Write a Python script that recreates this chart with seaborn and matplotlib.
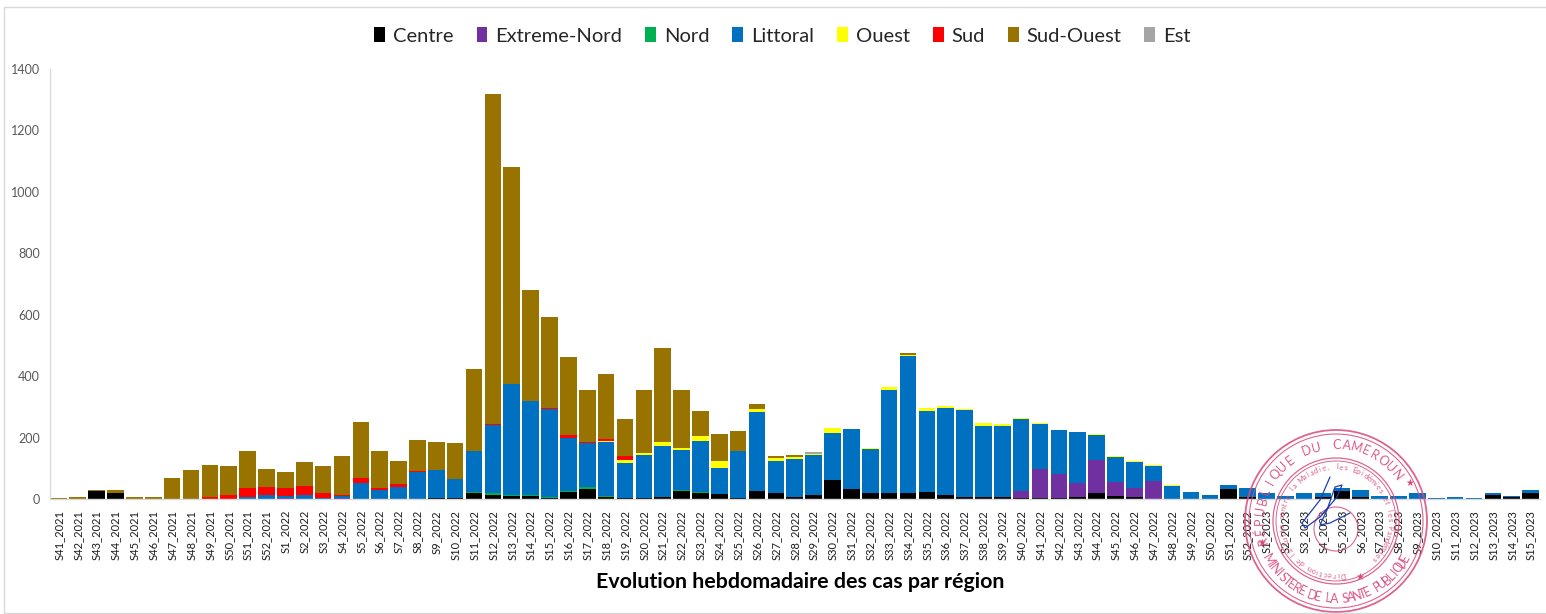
import matplotlib
matplotlib.use('Agg')
import matplotlib.pyplot as plt
import numpy as np
import pandas as pd
import seaborn as sns
from matplotlib.patches import Circle, Patch

weeks = [f'S{w}_2021' for w in range(41, 53)] + \
        [f'S{w}_2022' for w in range(1, 53)] + \
        [f'S{w}_2023' for w in range(1, 16)]

regions = ['Centre', 'Extreme-Nord', 'Nord', 'Littoral', 'Ouest', 'Sud', 'Sud-Ouest', 'Est']
colors = ['#000000', '#7030a0', '#00b050', '#0070c0', '#ffff00', '#ff0000', '#997300', '#a5a5a5']

centre = [0, 0, 25, 18, 0, 0, 0, 0, 0, 0, 0, 0,
          0, 0, 0, 0, 0, 0, 0, 0, 4, 4,
          20, 14, 10, 10, 3, 23, 32, 5, 2, 3,
          5, 26, 20, 15, 3, 27, 20, 7, 12, 62,
          31, 20, 20, 20, 24, 12, 6, 6, 6, 3,
          3, 3, 5, 20, 9, 5, 0, 0, 0, 0, 31, 8,
          0, 0, 0, 7, 25, 5, 0, 0, 0, 0, 0, 0, 14, 8, 18]
extreme_nord = [0] * 12 + \
          [3, 0, 0, 2, 0, 0, 0, 0, 0, 0,
           0, 0, 0, 0, 0, 0, 0, 0, 0, 0,
           0, 0, 0, 0, 0, 0, 0, 0, 0, 0,
           0, 0, 0, 0, 0, 0, 0, 0, 0, 22,
           95, 80, 47, 107, 46, 30, 60, 0, 0, 0, 0, 0] + [0] * 15
nord = [0] * 12 + \
          [0, 0, 0, 0, 0, 0, 0, 0, 0, 0,
           3, 4, 2, 4, 3, 4, 8, 4, 2, 0,
           2, 3, 4, 0, 0, 0, 0, 0, 0, 0,
           1, 0, 0, 0, 0, 0, 0, 0, 0, 0,
           0, 0, 0, 0, 0, 0, 0, 0, 0, 0, 0, 0] + [0] * 15
littoral = [0, 0, 0, 0, 0, 0, 0, 0, 0, 0, 5, 13,
            7, 12, 4, 8, 52, 28, 40, 88, 90, 61,
            132, 222, 364, 305, 287, 172, 142, 177, 112, 141,
            165, 130, 165, 87, 152, 256, 105, 122, 130, 153,
            196, 142, 336, 447, 262, 284, 285, 232, 233, 236,
            146, 141, 165, 81, 81, 85, 48, 42, 23, 13, 16, 27,
            19, 10, 18, 12, 12, 23, 10, 11, 18, 4, 7, 3, 7, 3, 10]
ouest = [0] * 12 + \
          [0, 0, 0, 0, 0, 0, 0, 0, 0, 0,
           0, 0, 0, 0, 0, 0, 1, 4, 10, 6,
           14, 8, 15, 23, 0, 11, 8, 8, 6, 15,
           0, 4, 10, 3, 10, 8, 2, 8, 4, 4,
           2, 1, 2, 3, 3, 4, 3, 3, 0, 0, 0, 0] + [0] * 15
sud = [0, 0, 0, 0, 0, 0, 0, 0, 5, 13, 32, 27,
       25, 30, 17, 4, 15, 7, 9, 3, 0, 0,
       0, 5, 0, 0, 3, 10, 3, 5, 13, 0,
       0] + [0] * 31 + [0] * 15
sud_ouest = [2, 8, 3, 10, 5, 5, 70, 93, 105, 93, 118, 57,
             53, 78, 88, 125, 185, 122, 76, 101, 91, 118,
             268, 1072, 705, 360, 297, 253, 168, 212, 120, 204,
             306, 188, 83, 87, 65, 14, 6, 5, 0, 0,
             0, 0, 0, 4, 0, 0, 0, 0, 0, 0,
             0, 0, 0, 0, 0, 0, 0, 0, 0, 0, 0, 0] + [0] * 15
est = [0] * 12 + [0] * 28 + [6] + [0] * 4 + [2] + [0] * 18 + [0] * 15

series = [centre, extreme_nord, nord, littoral, ouest, sud, sud_ouest, est]

frames = [pd.DataFrame({'semaine': weeks, 'region': r, 'cas': s}) for r, s in zip(regions, series)]
data = pd.concat(frames, ignore_index=True)

W, H = 1546, 614
font = ['Lato', 'DejaVu Sans']

sns.set_theme(style='white')
plt.rcParams['font.family'] = font

fig = plt.figure(figsize=(W / 100, H / 100), dpi=100)
ax = fig.add_axes([49.5 / W, 1 - 499 / H, (1540 - 49.5) / W, 430 / H])

# histplot stacks the first hue on top, so the order is reversed
sns.histplot(data=data, x='semaine', weights='cas', hue='region',
             hue_order=regions[::-1], palette=dict(zip(regions, colors)),
             multiple='stack', discrete=True, shrink=0.88, linewidth=0,
             alpha=1, legend=False, ax=ax)

ax.set_xlim(-0.5, len(weeks) - 0.5)
ax.set_ylim(0, 1400)
ax.set_yticks(range(0, 1401, 200))
ax.set_xticks(range(len(weeks)))
ax.set_xticklabels(weeks, rotation=90, fontsize=8, color='#1a1a1a')
ax.tick_params(axis='x', length=0, pad=8)
ax.tick_params(axis='y', length=3, width=0.8, color='#d9d9d9', labelsize=9, labelcolor='#595959', pad=4)
ax.set_xlabel('')
ax.set_ylabel('')
sns.despine(ax=ax)
for side in ['left', 'bottom']:
    ax.spines[side].set_color('#d9d9d9')
    ax.spines[side].set_linewidth(1)

handles = [Patch(facecolor=c, edgecolor='none', label=r) for r, c in zip(regions, colors)]
fig.legend(handles=handles, loc='center', bbox_to_anchor=(782.5 / W, 1 - 36 / H), ncol=8,
           frameon=False, handlelength=0.54, handleheight=0.72,
           handletextpad=0.4, columnspacing=1.13, prop={'family': font, 'size': 14.5})

fig.text(800 / W, 1 - 582 / H, 'Evolution hebdomadaire des cas par région', ha='center', va='center',
         fontsize=15.4, fontweight='bold', color='black')

# overlay in pixel coordinates for the frame, stamp and signature
over = fig.add_axes([0, 0, 1, 1], facecolor='none')
over.set_xlim(0, W)
over.set_ylim(H, 0)
over.axis('off')
over.plot([W, 3.5, 3.5, W], [6.5, 6.5, 612.5, 612.5], color='#d9d9d9', linewidth=1)

stamp = '#d8497c'
cx, cy = 1336, 521
for radius, lw in [(91, 1.3), (87, 0.8), (63, 0.9), (60, 0.7), (22, 0.8)]:
    over.add_patch(Circle((cx, cy + (8 if radius == 22 else 0)), radius, fill=False, edgecolor=stamp, linewidth=lw, alpha=0.85))


def arc_text(text, radius, start, end, size, top=True):
    for ch, ang in zip(text, np.linspace(start, end, len(text))):
        rad = np.deg2rad(ang)
        x = cx + radius * np.sin(rad)
        y = cy - radius * np.cos(rad)
        rot = -ang if top else 180 - ang
        over.text(x, y, ch, rotation=rot, rotation_mode='anchor', ha='center', va='center',
                  fontsize=size, color=stamp, alpha=0.9)


arc_text('RÉPUBLIQUE DU CAMEROUN', 76, -105, 53, 9)
arc_text('MINISTERE DE LA SANTE PUBLIQUE', 78, 240, 118, 9, top=False)
arc_text('Direction de la Lutte contre la Maladie, les Epidémies et les Pandémies', 54, -187, 134, 5.5)
over.text(cx + 74, cy - 38, '★', fontsize=7, color=stamp, ha='center', va='center', family='DejaVu Sans')
over.text(cx - 74, cy + 22, '★', fontsize=7, color=stamp, ha='center', va='center', family='DejaVu Sans')
over.text(cx + 24, cy + 56, '★', fontsize=7, color=stamp, ha='center', va='center', family='DejaVu Sans')

# signature
sig_x = [1330, 1320, 1302, 1305, 1320, 1337, 1342, 1335, 1327, 1320, 1330, 1350]
sig_y = [477, 500, 523, 528, 517, 497, 485, 487, 510, 525, 523, 513]
over.plot(sig_x, sig_y, color='#1f3fb0', linewidth=0.9)

fig.savefig('out.png', dpi=100)
